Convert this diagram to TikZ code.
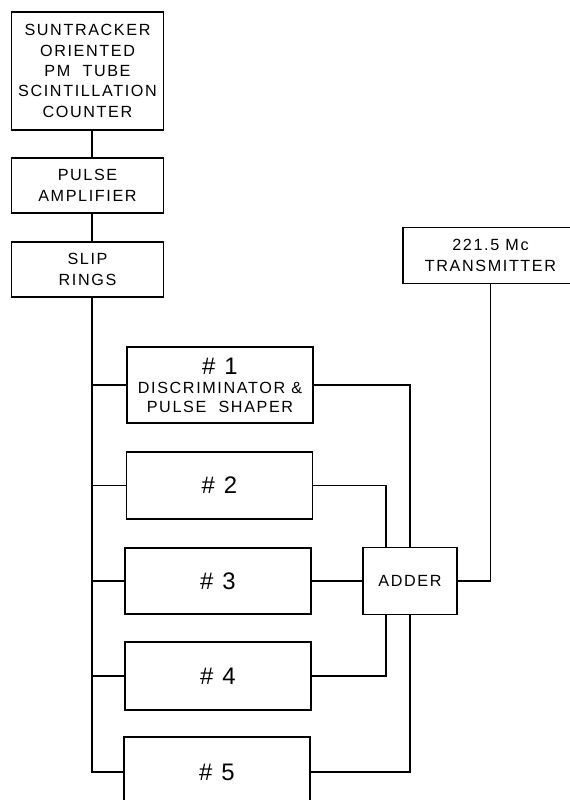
\documentclass[tikz,border=0pt]{standalone}
\usepackage{fontspec}
\setmainfont{Liberation Sans}[LetterSpace=10]
\usetikzlibrary{calc}

\begin{document}
\begin{tikzpicture}[x=0.025cm, y=-0.025cm, line width=1.1pt,
  every node/.style={font=\fontsize{11.5}{14.5}\selectfont},
  blk/.style={draw, rectangle, align=center, inner sep=0pt},
  chan/.style={blk, minimum width=4.65cm},
  num/.style={font=\fontsize{17}{20}\selectfont}]
\clip (0,0) rectangle (570,800);
\coordinate (bus) at (92,0);
\node[blk, minimum width=3.8cm, minimum height=2.95cm] (sun) at (87.5,71) {SUNTRACKER\\ORIENTED\\PM\ \ TUBE\\SCINTILLATION\\COUNTER};
\node[blk, minimum width=3.8cm, minimum height=1.375cm] (amp) at (87.5,185.5) {PULSE\\AMPLIFIER};
\node[blk, minimum width=3.8cm, minimum height=1.375cm] (slip) at (87.5,269.5) {SLIP\\RINGS};
\node[blk, minimum width=4.375cm, minimum height=1.4cm] (tx) at (490.5,255.5) {221.5 Mc\\TRANSMITTER};
\node[chan, minimum height=1.9cm, font=\fontsize{11.5}{13}\selectfont] (d1) at (220,385) {{\fontsize{17}{18}\selectfont\# 1}\\[1pt]DISCRIMINATOR \&\\PULSE\ \ SHAPER};
\node[chan, num, minimum height=1.675cm] (d2) at (219.5,485.5) {\# 2};
\node[chan, num, minimum height=1.65cm] (d3) at (218,581) {\# 3};
\node[chan, num, minimum height=1.7cm] (d4) at (218,676) {\# 4};
\node[chan, num, minimum height=1.75cm] (d5) at (217,772) {\# 5};
\node[blk, minimum width=2.35cm, minimum height=1.675cm] (adder) at (410,581) {ADDER};
% signal chain
\draw (sun.south -| bus) -- (amp.north -| bus);
\draw (amp.south -| bus) -- (slip.north -| bus);
\draw (slip.south -| bus) |- (d5.west);
\foreach \n in {1,...,4}
  \draw (bus |- d\n.west) -- (d\n.west);
% into the adder
\draw (d1.east) -| (adder.north);
\draw (d2.east) -| ([xshift=-0.6cm]adder.north);
\draw (d3.east) -- (adder.west);
\draw (d4.east) -| ([xshift=-0.6cm]adder.south);
\draw (d5.east) -| (adder.south);
\draw (adder.east) -| (tx.south);
\end{tikzpicture}
\end{document}
